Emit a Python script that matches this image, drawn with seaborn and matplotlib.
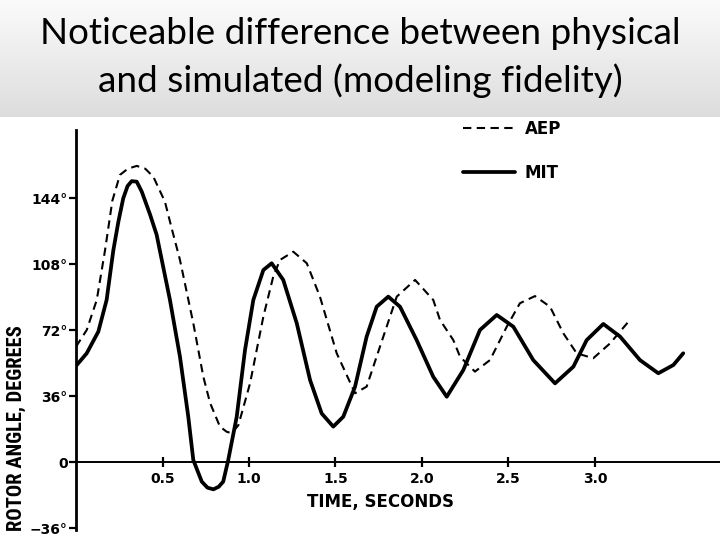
import numpy as np
import pandas as pd
import matplotlib
matplotlib.use("Agg")
import matplotlib.pyplot as plt
import seaborn as sns
from matplotlib import font_manager as fm
from matplotlib.colors import LinearSegmentedColormap

# ---------------- data ----------------
time_mit = [0.0, 0.062, 0.129, 0.177, 0.216, 0.245, 0.273, 0.298, 0.322, 0.351,
            0.380, 0.428, 0.466, 0.543, 0.601, 0.649, 0.678, 0.727, 0.760, 0.794,
            0.825, 0.851, 0.880, 0.929, 0.977, 1.025, 1.083, 1.131, 1.198, 1.276,
            1.353, 1.420, 1.487, 1.545, 1.613, 1.680, 1.738, 1.805, 1.873, 1.969,
            2.065, 2.143, 2.239, 2.335, 2.432, 2.528, 2.643, 2.769, 2.875, 2.952,
            3.048, 3.145, 3.260, 3.366, 3.453, 3.510]
angle_mit = [52.4, 59.3, 71.1, 88.4, 115.6, 131.1, 143.8, 150.5, 153.2, 152.9,
             147.5, 135.0, 124.0, 88.4, 57.4, 24.7, 1.1, -10.7, -14.0, -14.9,
             -13.5, -10.7, 1.1, 24.7, 61.1, 88.4, 104.7, 108.4, 99.3, 75.7,
             44.7, 26.5, 19.3, 24.7, 41.1, 68.4, 84.7, 90.2, 84.7, 66.5,
             46.5, 35.6, 50.2, 72.0, 80.2, 73.8, 55.6, 42.9, 52.0, 66.5,
             75.3, 68.4, 55.6, 48.4, 52.9, 59.3]

time_aep = [0.0, 0.062, 0.120, 0.168, 0.210, 0.254, 0.300, 0.351, 0.400, 0.447,
            0.514, 0.553, 0.601, 0.678, 0.736, 0.775, 0.832, 0.871, 0.900, 0.938,
            0.958, 1.006, 1.083, 1.140, 1.179, 1.256, 1.334, 1.410, 1.507, 1.613,
            1.680, 1.757, 1.854, 1.960, 2.065, 2.104, 2.181, 2.220, 2.306, 2.393,
            2.490, 2.566, 2.653, 2.740, 2.817, 2.894, 2.990, 3.087, 3.193]
angle_aep = [62.9, 72.0, 88.4, 115.6, 142.5, 156.6, 160.0, 161.5, 160.0, 155.6,
             142.0, 127.5, 110.2, 75.7, 46.5, 32.2, 19.3, 16.5, 15.7, 20.0,
             26.6, 42.9, 79.3, 101.1, 110.2, 114.7, 108.4, 90.2, 59.3, 37.5,
             41.1, 62.9, 90.2, 99.3, 88.4, 77.5, 66.5, 57.4, 49.3, 55.6,
             73.8, 86.6, 90.5, 84.7, 70.2, 59.3, 56.6, 64.7, 76.5]

series_names = ["AEP", "MIT"]
x_ticks = [0.5, 1.0, 1.5, 2.0, 2.5, 3.0]
x_tick_labels = ["0.5", "1.0", "1.5", "2.0", "2.5", "3.0"]
y_ticks = [-36, 0, 36, 72, 108, 144]
y_tick_labels = ["\u221236\u00b0", "0", "36\u00b0", "72\u00b0", "108\u00b0", "144\u00b0"]
title_text = "Noticeable difference between physical\nand simulated (modeling fidelity)"
x_label = "TIME, SECONDS"
y_label = "ROTOR ANGLE, DEGREES"

# ---------------- style ----------------
sns.set_theme(style="white")
plt.rcParams["font.family"] = ["DejaVu Sans"]

avail = {f.name for f in fm.fontManager.ttflist}
title_font = next((n for n in ["Lato", "Open Sans", "Noto Sans"] if n in avail), "DejaVu Sans")
cond_font = next((n for n in ["Roboto Condensed", "Liberation Sans Narrow", "DejaVu Sans"]
                  if n in avail), "DejaVu Sans")

W, H = 720, 540
fig = plt.figure(figsize=(7.2, 5.4), dpi=100, facecolor="white")
renderer = fig.canvas.get_renderer()


def fit_text(txt, target_px, use_height=False):
    bb = txt.get_window_extent(renderer)
    cur = bb.height if use_height else bb.width
    txt.set_fontsize(txt.get_fontsize() * target_px / cur)


# title band with soft grey gradient
bg = fig.add_axes([0, 1 - 117 / H, 1, 117 / H], zorder=0)
grad = np.linspace(0, 1, 256).reshape(-1, 1)
bg.imshow(grad, aspect="auto", extent=[0, 1, 0, 1], origin="upper",
          cmap=LinearSegmentedColormap.from_list("band", ["#fbfbfb", "#dddddd"]))
bg.set_axis_off()

title = fig.text(0.5, 1 - 57.5 / H, title_text, ha="center", va="center",
                 family=title_font, fontsize=26, color="black", zorder=2)
fit_text(title, 640)
probe = fig.text(0, 0, "lp", family=title_font, fontsize=title.get_fontsize())
lp_h = probe.get_window_extent(renderer).height
probe.remove()
title.set_linespacing(49.0 / lp_h)

# ---------------- main axes ----------------
x0_px, y0_px = 76.0, 462.0        # pixel position of (t=0, angle=0)
px_per_s, px_per_deg = 173.0, 66.0 / 36.0
xlim = (0.0, 3.72)
ylim = (-40.0, 185.0)
left = x0_px / W
width = (xlim[1] - xlim[0]) * px_per_s / W
bottom_px = y0_px + (0 - ylim[0]) * px_per_deg
top_px = y0_px - ylim[1] * px_per_deg
ax = fig.add_axes([left, (H - bottom_px) / H, width, (bottom_px - top_px) / H], zorder=1)
ax.set_facecolor("none")

sns.lineplot(x=time_aep, y=angle_aep, ax=ax, color="black", linewidth=1.5,
             linestyle=(0, (4, 2.6)), label=series_names[0], sort=False, estimator=None)
sns.lineplot(x=time_mit, y=angle_mit, ax=ax, color="black", linewidth=2.7,
             label=series_names[1], sort=False, estimator=None,
             solid_joinstyle="round", solid_capstyle="round")

ax.set_xlim(*xlim)
ax.set_ylim(*ylim)
for s in ["top", "right"]:
    ax.spines[s].set_visible(False)
ax.spines["bottom"].set_position(("data", 0))
ax.spines["left"].set_position(("data", 0))
ax.spines["bottom"].set_bounds(0, xlim[1])
ax.spines["left"].set_bounds(-37, 181)
ax.spines["bottom"].set_linewidth(1.4)
ax.spines["left"].set_linewidth(2.0)
for s in ["bottom", "left"]:
    ax.spines[s].set_color("black")

ax.set_xticks(x_ticks)
ax.set_xticklabels(x_tick_labels)
ax.set_yticks(y_ticks)
ax.set_yticklabels(y_tick_labels)
ax.tick_params(axis="x", direction="inout", length=7, width=1.6, pad=4,
               labelsize=10, colors="black", bottom=True)
ax.tick_params(axis="y", direction="out", length=5, width=1.6, pad=1,
               labelsize=10, colors="black", left=True)
for lbl in ax.get_xticklabels() + ax.get_yticklabels():
    lbl.set_fontweight("bold")

ax.set_xlabel(x_label, fontsize=12, fontweight="bold", color="black")
ax.xaxis.set_label_coords((381 - x0_px) / (width * W), (bottom_px - 493) / (bottom_px - top_px))
ax.set_ylabel(y_label, fontsize=11, fontweight="bold", color="black", family=cond_font)
ax.yaxis.set_label_coords((16 - x0_px) / (width * W), (bottom_px - 428) / (bottom_px - top_px))
ax.yaxis.label.set_verticalalignment("center")
fit_text(ax.yaxis.label, 205, use_height=True)

leg = ax.legend(loc="upper left", bbox_to_anchor=(455 / W, 1 - 112 / H),
                bbox_transform=fig.transFigure, frameon=False, borderpad=0,
                handlelength=3.1, handletextpad=0.6, labelspacing=1.55,
                prop={"weight": "bold", "size": 12})
for t in leg.get_texts():
    t.set_color("black")

fig.savefig("out.png", dpi=100, facecolor="white")
